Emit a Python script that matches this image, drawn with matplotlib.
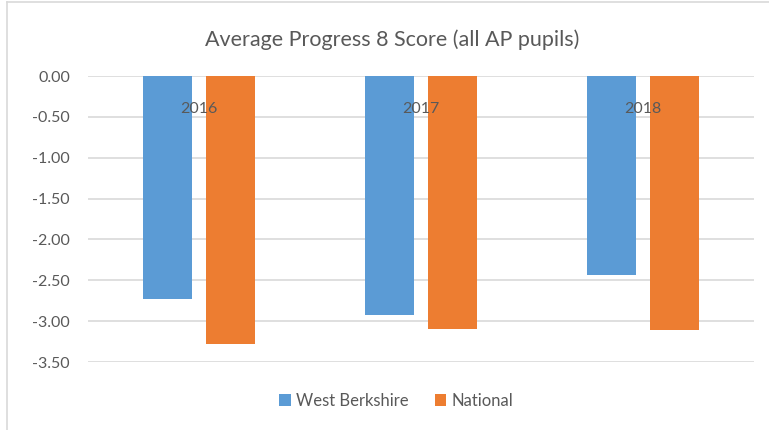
import numpy as np
import matplotlib.pyplot as plt
from matplotlib.lines import Line2D

years = ['2016', '2017', '2018']
west_berkshire = [-2.73, -2.93, -2.43]
national = [-3.28, -3.10, -3.11]

plt.rcParams['font.family'] = ['Lato', 'DejaVu Sans']
grey = '#595959'

fig = plt.figure(figsize=(7.69, 4.30), dpi=100)
ax = fig.add_axes([88 / 769, 1 - 362 / 430, (754 - 88) / 769, (362 - 76) / 430])

x = np.arange(len(years))
w = 0.225
off = 0.142
ax.bar(x - off, west_berkshire, w, color='#5B9BD5', label='West Berkshire', zorder=2)
ax.bar(x + off, national, w, color='#ED7D31', label='National', zorder=2)

for i, y in enumerate(years):
    ax.annotate(y, (i, 0), xytext=(0, -19), textcoords='offset points',
                ha='center', va='top', fontsize=11.5, color=grey, zorder=3)

ax.set_xlim(-0.5, 2.5)
ax.set_ylim(-3.5, 0)
ticks = np.arange(0, -3.51, -0.5)
ax.set_yticks(ticks)
ax.set_yticklabels(['%.2f' % t for t in ticks])
ax.set_xticks([])
ax.tick_params(axis='y', length=0, pad=13, labelsize=11.5, labelcolor=grey)
ax.grid(axis='y', color='#d9d9d9', linewidth=1.2, zorder=0)
ax.set_axisbelow(True)
for s in ax.spines.values():
    s.set_visible(False)

fig.text(0.51, 1 - 40 / 430, 'Average Progress 8 Score (all AP pupils)',
         ha='center', va='center', fontsize=15.5, color=grey)

fig.legend(loc='center', bbox_to_anchor=(0.515, 1 - 401 / 430), ncol=2,
           frameon=False, fontsize=12, labelcolor=grey, handlelength=0.7,
           handleheight=0.7, columnspacing=1.6, handletextpad=0.3)

# outer chart border
fig.add_artist(Line2D([7 / 769, 1], [1 - 2 / 430, 1 - 2 / 430], color='#d9d9d9', lw=1.2))
fig.add_artist(Line2D([7 / 769, 7 / 769], [0, 1 - 2 / 430], color='#d9d9d9', lw=1.2))

fig.savefig('out.png', dpi=100)
